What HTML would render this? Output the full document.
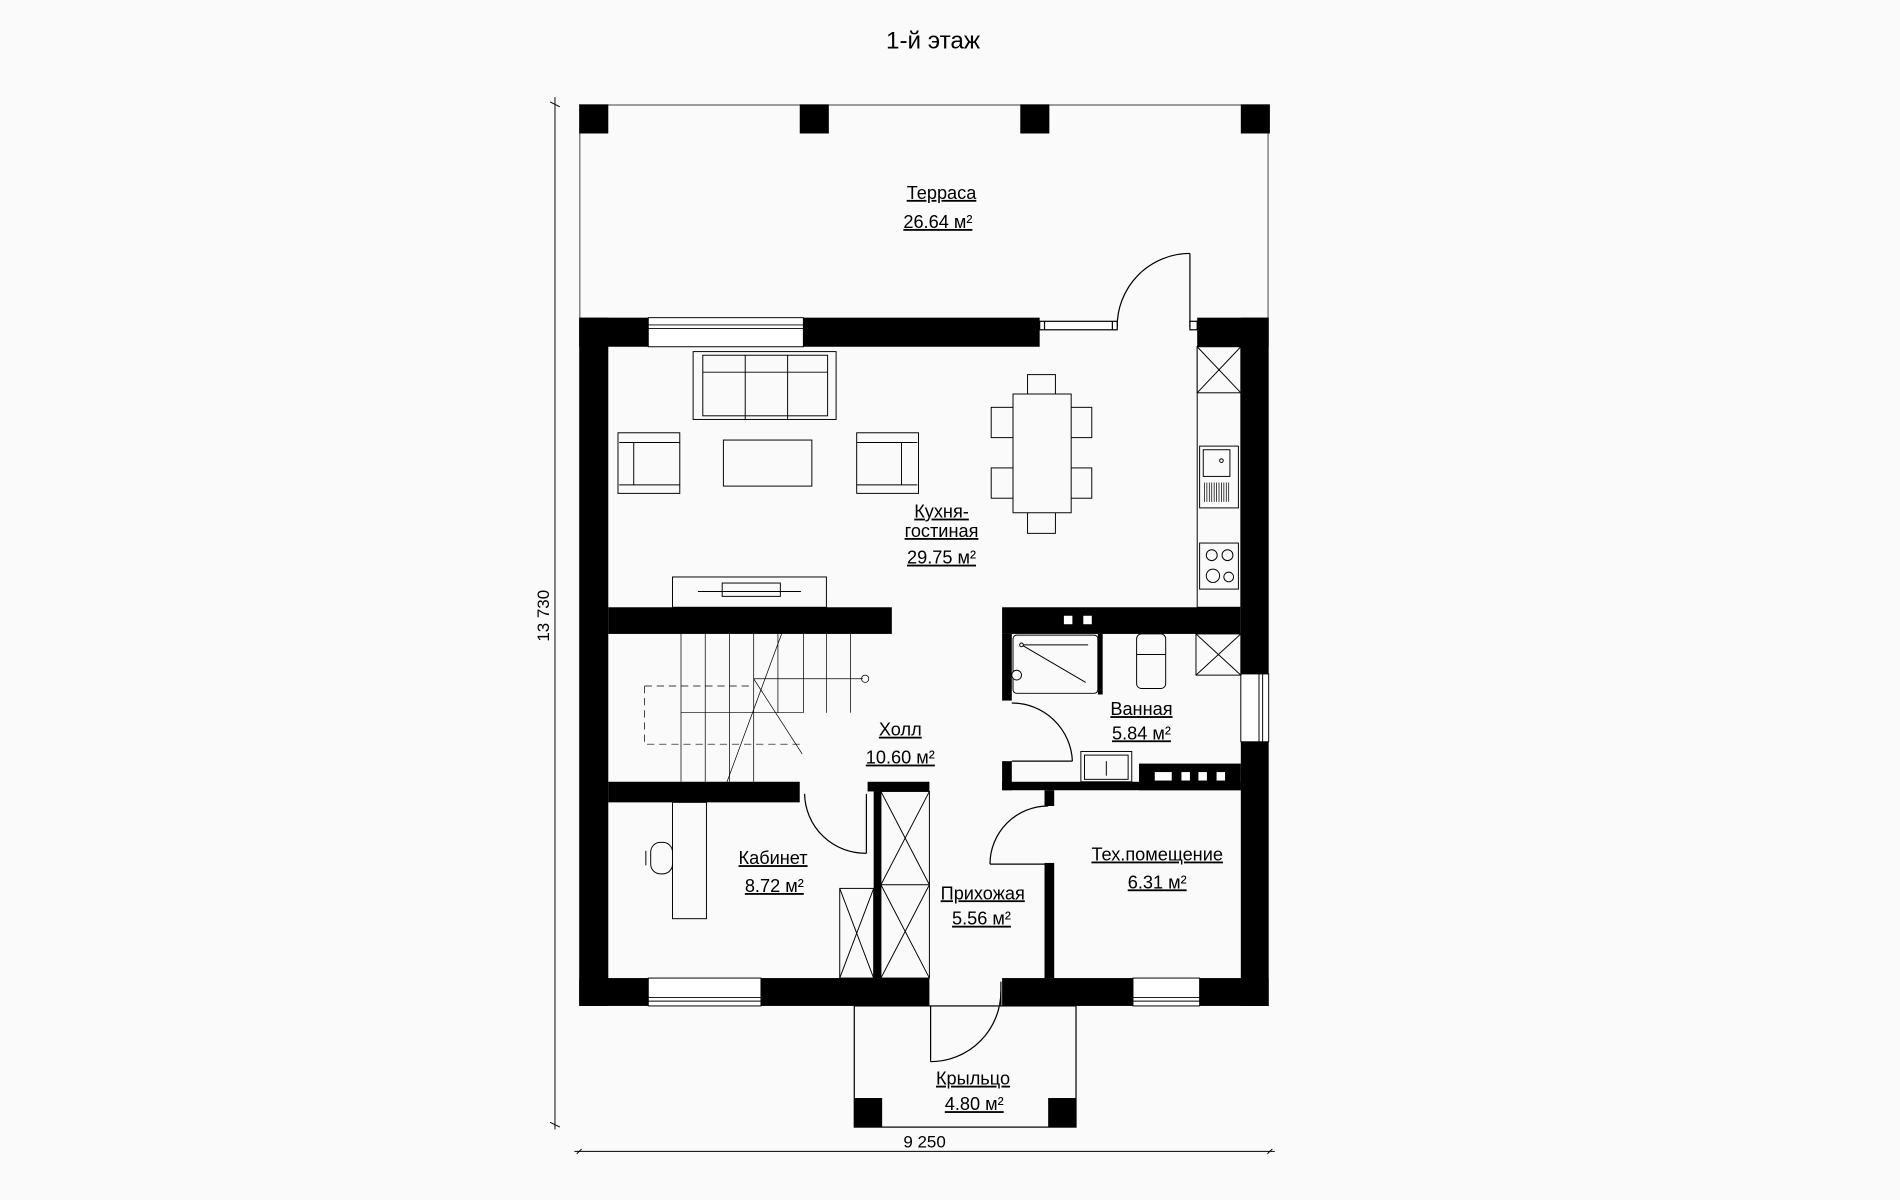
<!DOCTYPE html>
<html><head><meta charset="utf-8"><style>
html,body{margin:0;padding:0;background:#fafafa;}
svg{display:block;}
text{font-family:"Liberation Sans",sans-serif;font-size:15px;fill:#000;text-anchor:middle;}
.u{text-decoration:underline;}
</style></head><body>
<svg width="1900" height="1200" viewBox="0 0 1568 990" xmlns="http://www.w3.org/2000/svg">
<rect width="1568" height="990" fill="#fafafa"/>
<text x="770" y="40" style="font-size:20px">1-й этаж</text>

<!-- dimension lines -->
<g stroke="#000" stroke-width="0.8" fill="none">
<line x1="458" y1="80" x2="458" y2="932"/>
<line x1="454" y1="84" x2="462" y2="88"/><line x1="454" y1="926" x2="462" y2="930"/>
<line x1="474" y1="950" x2="1052" y2="950"/>
<line x1="476" y1="952" x2="480" y2="948"/><line x1="1046" y1="952" x2="1050" y2="948"/>
</g>
<text x="453" y="508" transform="rotate(-90 453 508)" style="font-size:14px">13 730</text>
<text x="763" y="947" style="font-size:14px">9 250</text>

<!-- terrace -->
<g stroke="#666" stroke-width="1" fill="none">
<line x1="478" y1="86.5" x2="1047" y2="86.5"/>
<line x1="478.5" y1="86" x2="478.5" y2="262"/>
<line x1="1046.5" y1="86" x2="1046.5" y2="262"/>
</g>
<g fill="#000">
<rect x="478" y="86" width="24" height="24"/>
<rect x="660" y="86" width="24" height="24"/>
<rect x="842" y="86" width="24" height="24"/>
<rect x="1024" y="86" width="24" height="24"/>
</g>
<text class="u" x="777" y="164">Терраса</text>
<text class="u" x="774" y="188">26.64 м²</text>

<!-- terrace door -->
<g stroke="#000" stroke-width="1" fill="none">
<line x1="982" y1="209" x2="982" y2="270"/>
<path d="M982 209 A60 60 0 0 0 922 270"/>
<rect x="858" y="265" width="64" height="7" fill="#fff"/>
<line x1="862" y1="265" x2="862" y2="272"/><line x1="918" y1="265" x2="918" y2="272"/>
<rect x="982" y="265" width="6" height="7" fill="#fff"/>
</g>

<!-- walls -->
<g fill="#000">
<rect x="478" y="262" width="57" height="24"/>
<rect x="663" y="262" width="195" height="24"/>
<rect x="988" y="262" width="59" height="24"/>
<rect x="478" y="262" width="24" height="568"/>
<rect x="1024" y="262" width="23" height="294"/>
<rect x="1024" y="612" width="23" height="218"/>
<rect x="478" y="807" width="57" height="23"/>
<rect x="628" y="807" width="139" height="23"/>
<rect x="827" y="807" width="108" height="23"/>
<rect x="990" y="807" width="57" height="23"/>
<rect x="502" y="501" width="234" height="22"/>
<rect x="502" y="645" width="158" height="17"/>
<rect x="716" y="645" width="51" height="8"/>
<rect x="721" y="653" width="6" height="154"/>
<rect x="827" y="501" width="197" height="22"/>
<rect x="827" y="523" width="8" height="55"/>
<rect x="827" y="628" width="8" height="24"/>
<rect x="827" y="645" width="197" height="7"/>
<rect x="940" y="630" width="84" height="22"/>
<rect x="906" y="523" width="4" height="50"/>
<rect x="862" y="652" width="8" height="13"/>
<rect x="862" y="712" width="8" height="95"/>
</g>
<g fill="#fff">
<rect x="878" y="508" width="7" height="7"/><rect x="894" y="508" width="7" height="7"/>
<rect x="953" y="637" width="14" height="7"/><rect x="975" y="637" width="7" height="7"/><rect x="989" y="637" width="7" height="7"/><rect x="1004" y="637" width="7" height="7"/>
</g>

<!-- windows -->
<g stroke="#000" stroke-width="0.8" fill="#fff">
<rect x="535" y="262" width="128" height="24"/>
<line x1="535" y1="268" x2="663" y2="268"/><line x1="535" y1="271" x2="663" y2="271"/>
<rect x="535" y="807" width="93" height="23"/>
<line x1="535" y1="823" x2="628" y2="823"/><line x1="535" y1="826" x2="628" y2="826"/>
<rect x="935" y="807" width="55" height="23"/>
<line x1="935" y1="823" x2="990" y2="823"/><line x1="935" y1="826" x2="990" y2="826"/>
<rect x="1024" y="556" width="23" height="56"/>
<line x1="1039" y1="556" x2="1039" y2="612"/><line x1="1042" y1="556" x2="1042" y2="612"/>
</g>

<!-- porch -->
<g stroke="#000" stroke-width="1" fill="none">
<rect x="705" y="830" width="183" height="100"/>
<line x1="768" y1="830" x2="768" y2="876"/>
<path d="M768 876 A58 58 0 0 0 826 818"/>
<line x1="826" y1="810" x2="826" y2="830"/>
</g>
<g fill="#000"><rect x="705" y="906" width="23" height="24"/><rect x="865" y="906" width="23" height="24"/></g>
<text class="u" x="803" y="895">Крыльцо</text>
<text class="u" x="804" y="916">4.80 м²</text>

<!-- interior doors -->
<g stroke="#000" stroke-width="1" fill="none">
<path d="M664 655 A50 50 0 0 0 715 704"/><line x1="715" y1="655" x2="715" y2="704"/>
<path d="M835 580 A50 50 0 0 1 885 628"/><line x1="835" y1="628" x2="885" y2="628"/>
<path d="M865 665 A48 48 0 0 0 817 713"/><line x1="817" y1="713" x2="865" y2="713"/>
</g>

<!-- wardrobe -->
<g stroke="#000" stroke-width="0.8" fill="none">
<rect x="727" y="653" width="40" height="154"/>
<line x1="727" y1="730" x2="767" y2="730"/>
<line x1="727" y1="653" x2="767" y2="730"/><line x1="767" y1="653" x2="727" y2="730"/>
<line x1="727" y1="730" x2="767" y2="807"/><line x1="767" y1="730" x2="727" y2="807"/>
<rect x="693" y="733" width="28" height="74"/>
<line x1="693" y1="733" x2="721" y2="807"/><line x1="721" y1="733" x2="693" y2="807"/>
</g>

<!-- stairs -->
<g stroke="#000" stroke-width="0.6" fill="none">
<line x1="562" y1="523" x2="562" y2="645"/>
<line x1="562" y1="588" x2="663" y2="588"/>
<line x1="663" y1="523" x2="663" y2="588"/>
<g><line x1="582" y1="523" x2="582" y2="645"/><line x1="602" y1="523" x2="602" y2="645"/><line x1="622" y1="523" x2="622" y2="645"/><line x1="642" y1="523" x2="642" y2="588"/><line x1="682" y1="523" x2="682" y2="588"/><line x1="702" y1="523" x2="702" y2="588"/></g>
<line x1="600" y1="645" x2="645" y2="523"/>
<line x1="622" y1="560" x2="662" y2="622"/>
<line x1="622" y1="560" x2="712" y2="560"/>
<circle cx="714" cy="560" r="3"/>
<path d="M532 566 L532 614 L662 614" stroke-dasharray="6 4"/>
<path d="M532 566 L622 566" stroke-dasharray="6 4"/>
</g>

<!-- TV unit -->
<g stroke="#000" stroke-width="0.8" fill="#fafafa">
<rect x="555" y="476" width="127" height="25"/>
<rect x="596" y="481" width="48" height="11"/>
<line x1="576" y1="488" x2="661" y2="488"/>
</g>

<!-- living room furniture -->
<g stroke="#000" stroke-width="0.8" fill="#fafafa">
<rect x="572" y="290" width="118" height="56"/>
<rect x="580" y="293" width="103" height="50"/>
<line x1="580" y1="307" x2="683" y2="307"/>
<line x1="615" y1="293" x2="615" y2="346"/><line x1="650" y1="293" x2="650" y2="346"/>
<rect x="510" y="357" width="51" height="50"/>
<line x1="523" y1="365" x2="523" y2="400"/><line x1="511" y1="365" x2="561" y2="365"/><line x1="511" y1="400" x2="561" y2="400"/>
<rect x="707" y="357" width="51" height="50"/>
<line x1="744" y1="365" x2="744" y2="400"/><line x1="707" y1="365" x2="757" y2="365"/><line x1="707" y1="400" x2="757" y2="400"/>
<rect x="597" y="363" width="73" height="38"/>
<rect x="848" y="309" width="23" height="18"/>
<rect x="848" y="422" width="23" height="18"/>
<rect x="818" y="336" width="18" height="25"/><rect x="818" y="386" width="18" height="25"/>
<rect x="883" y="336" width="18" height="25"/><rect x="883" y="386" width="18" height="25"/>
<rect x="836" y="325" width="48" height="98"/>
</g>
<text class="u" x="777" y="427">Кухня-</text>
<text class="u" x="777" y="443">гостиная</text>
<text class="u" x="777" y="465">29.75 м²</text>

<!-- kitchen -->
<g stroke="#000" stroke-width="0.8" fill="#fafafa">
<rect x="988" y="286" width="36" height="215"/>
<rect x="988" y="286" width="36" height="38"/>
<line x1="988" y1="286" x2="1024" y2="324"/><line x1="1024" y1="286" x2="988" y2="324"/>
<rect x="990" y="368" width="32" height="51"/>
<rect x="993" y="371" width="22" height="22"/>
<circle cx="1008" cy="380" r="1.5"/>
<rect x="990" y="448" width="32" height="38"/>
<circle cx="1000" cy="458" r="4.5"/><circle cx="1013" cy="458" r="4.5"/>
<circle cx="1001" cy="475" r="5.5"/><circle cx="1014" cy="476" r="4"/>
</g>
<g stroke="#000" stroke-width="0.6"><path d="M994 398 V414 M996 398 V414 M998 398 V414 M1000 398 V414 M1002 398 V414 M1004 398 V414 M1006 398 V414 M1008 398 V414 M1010 398 V414 M1012 398 V414 M1014 398 V414"/></g>

<!-- bathroom -->
<g stroke="#000" stroke-width="0.8" fill="#fafafa">
<rect x="836" y="524" width="70" height="48" rx="3"/>
<line x1="843" y1="532" x2="898" y2="532"/>
<line x1="843" y1="532" x2="896" y2="563"/>
<circle cx="843" cy="532" r="1.5"/>
<circle cx="839" cy="557" r="4"/>
<rect x="938" y="523" width="24" height="45" rx="4"/>
<line x1="938" y1="540" x2="962" y2="540"/>
<rect x="987" y="523" width="37" height="34"/>
<line x1="987" y1="523" x2="1024" y2="557"/><line x1="1024" y1="523" x2="987" y2="557"/>
<rect x="892" y="620" width="42" height="25"/>
<rect x="895" y="623" width="36" height="20"/>
<line x1="913" y1="628" x2="913" y2="640"/>
</g>
<text class="u" x="942" y="590">Ванная</text>
<text class="u" x="942" y="610">5.84 м²</text>

<text class="u" x="743" y="607">Холл</text>
<text class="u" x="743" y="630">10.60 м²</text>

<!-- study -->
<g stroke="#000" stroke-width="0.8" fill="#fafafa">
<rect x="555" y="662" width="28" height="96"/>
<rect x="537" y="695" width="18" height="26" rx="8"/>
<line x1="533" y1="702" x2="533" y2="714"/>
</g>
<text class="u" x="638" y="713">Кабинет</text>
<text class="u" x="639" y="736">8.72 м²</text>

<text class="u" x="811" y="742">Прихожая</text>
<text class="u" x="810" y="763">5.56 м²</text>

<text class="u" x="955" y="710">Тех.помещение</text>
<text class="u" x="955" y="733">6.31 м²</text>
</svg>
</body></html>
